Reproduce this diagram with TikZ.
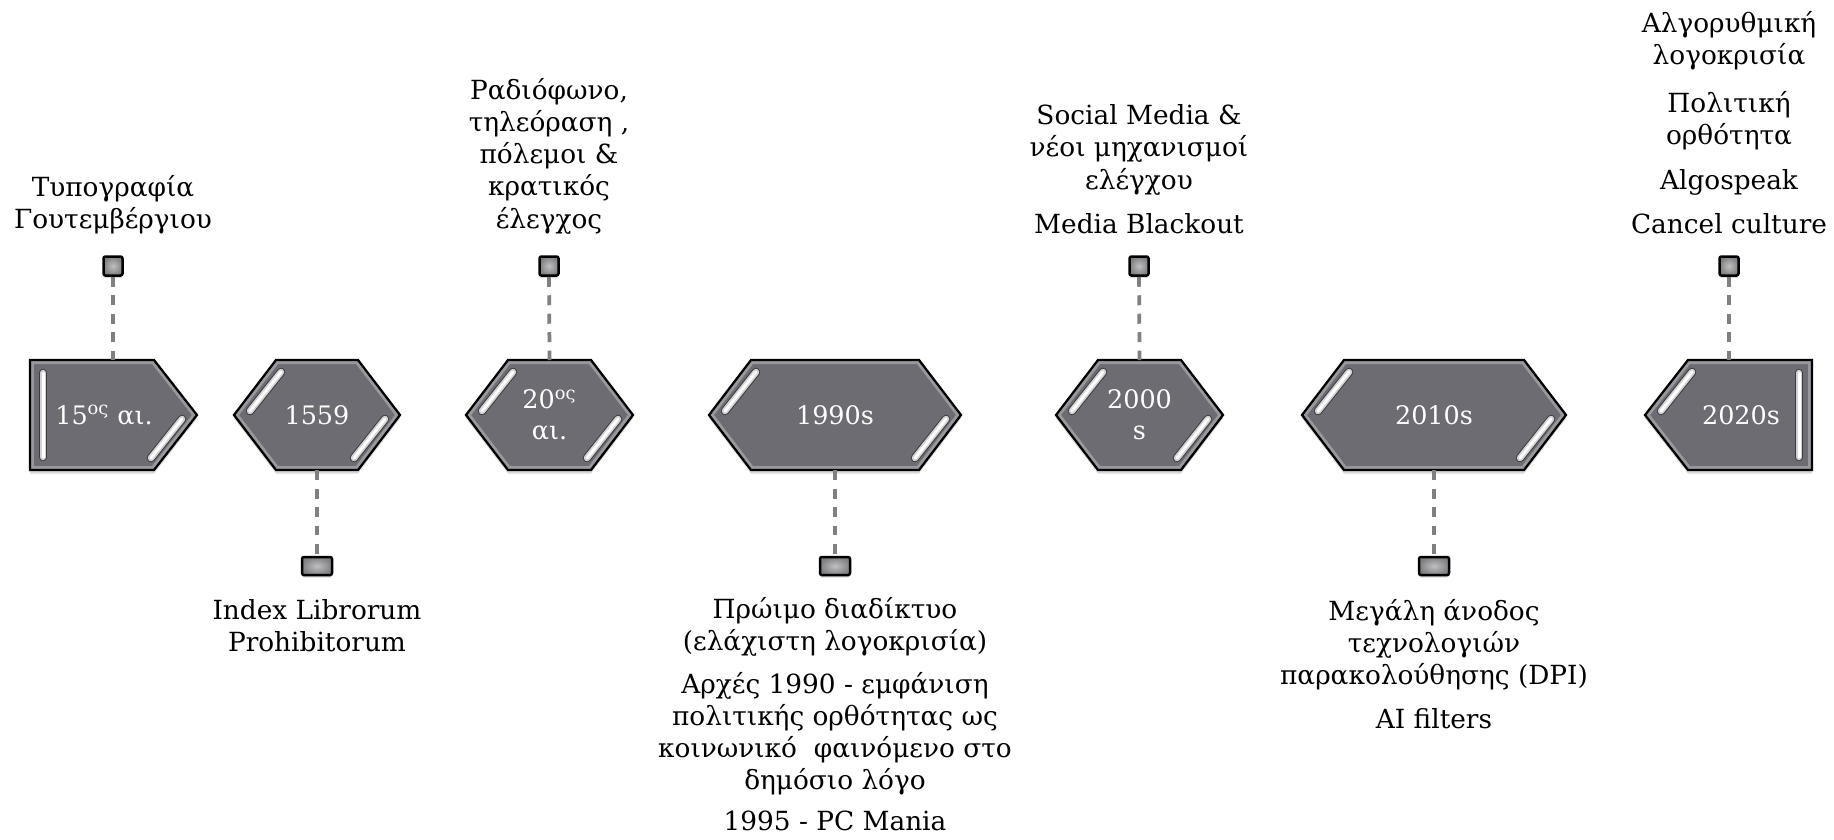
\documentclass[tikz,border=0pt]{standalone}
\usepackage{fontspec}
\setmainfont{DejaVu Serif}
\usetikzlibrary{positioning,shadows}

\definecolor{hexgray}{RGB}{109,108,114}
\definecolor{linkgray}{RGB}{128,128,130}
\definecolor{pingray}{RGB}{128,128,132}

\tikzset{
  hexfill/.style={fill=hexgray, drop shadow={shadow xshift=0cm, shadow yshift=-0.07cm, opacity=0.3}},
  hexline/.style={draw=black, line width=0.045cm},
  bevel/.style={draw=hexgray!70!white, line width=0.16cm},
  glintedge/.style={line cap=round, line width=0.17cm, draw=hexgray!55!black},
  glint/.style={line cap=round, line width=0.13cm, draw=hexgray!30!white},
  glintcore/.style={line cap=round, line width=0.06cm, draw=white},
  hextext/.style={text=white, font=\fontsize{14.5}{17.5}\selectfont, align=center, inner sep=0pt},
  lbl/.style={font=\fontsize{15}{18.3}\selectfont, align=center, inner sep=0pt},
  pin/.style={draw=black, line width=0.05cm, rounded corners=0.04cm, inner sep=0pt,
    inner color=gray!50, outer color=pingray,
    drop shadow={shadow xshift=0cm, shadow yshift=-0.05cm, opacity=0.3}},
  pintop/.style={pin, minimum width=0.38cm, minimum height=0.38cm},
  pinbot/.style={pin, minimum width=0.6cm, minimum height=0.36cm},
  link/.style={draw=linkgray, line width=0.075cm, dash pattern=on 0.2cm off 0.17cm},
}

% glint strip between two points
\newcommand{\glint}[2]{%
  \draw[glintedge] #1 -- #2;
  \draw[glint] #1 -- #2;
  \draw[glintcore] #1 -- #2;
}

% hexagon: name, centre x, half width, text
\newcommand{\hexa}[4]{%
  \def\hp{(#2-#3,415) -- (#2-#3+42,360) -- (#2+#3-42,360) -- (#2+#3,415) -- (#2+#3-42,470) -- (#2-#3+42,470) -- cycle}
  \fill[hexfill] \hp;
  \begin{scope} \clip \hp; \draw[bevel] \hp; \end{scope}
  \draw[hexline] \hp;
  \glint{(#2-#3+16,411)}{(#2-#3+47,372)}
  \glint{(#2+#3-15,419)}{(#2+#3-46,458)}
  \node[hextext] (#1) at (#2,415) {#4};
  \coordinate (#1-n) at (#2,360);
  \coordinate (#1-s) at (#2,470);
}

\begin{document}
\begin{tikzpicture}[x=0.02cm,y=-0.02cm]
  \useasboundingbox (0,0) rectangle (1834,839);

  % 15os ai. (flat left, point right)
  \def\hp{(30,360) -- (154,360) -- (197,415) -- (154,470) -- (30,470) -- cycle}
  \fill[hexfill] \hp;
  \begin{scope} \clip \hp; \draw[bevel] \hp; \end{scope}
  \draw[hexline] \hp;
  \glint{(43,373)}{(43,457)}
  \glint{(182,419)}{(151,458)}
  \node[hextext] (h1) at (104,415) {15\textsuperscript{ος} αι.};
  \coordinate (h1-n) at (113,360);

  % middle hexagons
  \hexa{h2}{317}{83}{1559}
  \hexa{h3}{549.5}{83.5}{20\textsuperscript{ος}\\αι.}
  \hexa{h4}{835}{126}{1990s}
  \hexa{h5}{1139.5}{83.5}{2000\\s}
  \hexa{h6}{1434}{132}{2010s}

  % 2020s (point left, flat right)
  \def\hp{(1645,415) -- (1688,360) -- (1812,360) -- (1812,470) -- (1688,470) -- cycle}
  \fill[hexfill] \hp;
  \begin{scope} \clip \hp; \draw[bevel] \hp; \end{scope}
  \draw[hexline] \hp;
  \glint{(1661,411)}{(1692,372)}
  \glint{(1799,373)}{(1799,457)}
  \node[hextext] (h7) at (1741,415) {2020s};
  \coordinate (h7-n) at (1729,360);

  % pins and texts above
  \node[pintop] (p1) at (113,266) {};
  \node[lbl, above=0.42cm of p1] (l1) {Τυπογραφία\\Γουτεμβέργιου};
  \node[pintop] (p3) at (549,266) {};
  \node[lbl, above=0.42cm of p3] (l3) {Ραδιόφωνο,\\τηλεόραση ,\\πόλεμοι \&\\κρατικός\\έλεγχος};
  \node[pintop] (p5) at (1139,266) {};
  \node[lbl, above=0.42cm of p5] (l5) {Social Media \&\\νέοι μηχανισμοί\\ελέγχου\\[7pt]Media Blackout};
  \node[pintop] (p7) at (1729,266) {};
  \node[lbl, above=0.42cm of p7] (l7) {Αλγορυθμική\\λογοκρισία\\[9pt]Πολιτική\\ορθότητα\\[7pt]Algospeak\\[7pt]Cancel culture};

  % pins and texts below
  \node[pinbot] (p2) at (317,566) {};
  \node[lbl, below=0.45cm of p2] (l2) {Index Librorum\\Prohibitorum};
  \node[pinbot] (p4) at (835,566) {};
  \node[lbl, below=0.42cm of p4] (l4) {Πρώιμο διαδίκτυο\\(ελάχιστη λογοκρισία)\\[6pt]Αρχές 1990 - εμφάνιση\\πολιτικής ορθότητας ως\\κοινωνικό~ φαινόμενο στο\\δημόσιο λόγο\\[5pt]1995 - PC Mania};
  \node[pinbot] (p6) at (1434,566) {};
  \node[lbl, below=0.45cm of p6] (l6) {Μεγάλη άνοδος\\τεχνολογιών\\παρακολούθησης (DPI)\\[7pt]AI filters};

  % dashed links
  \draw[link] (p1) -- (h1-n);
  \draw[link] (p3) -- (h3-n);
  \draw[link] (p5) -- (h5-n);
  \draw[link] (p7) -- (h7-n);
  \draw[link] (h2-s) -- (p2);
  \draw[link] (h4-s) -- (p4);
  \draw[link] (h6-s) -- (p6);
\end{tikzpicture}
\end{document}
